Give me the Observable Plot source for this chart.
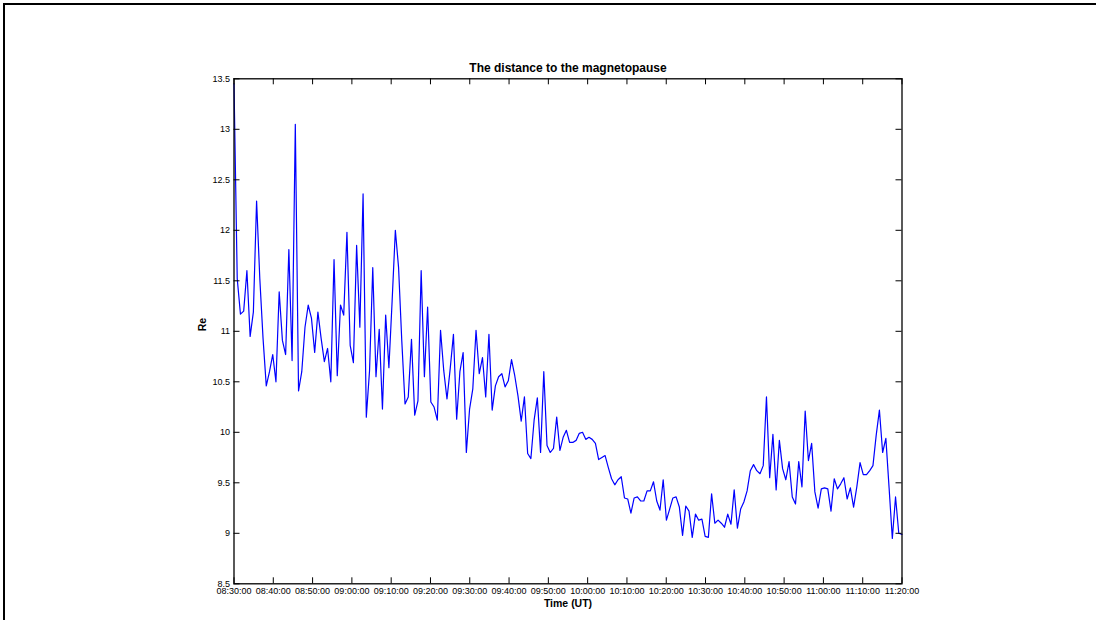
<!DOCTYPE html>
<html>
<head>
<meta charset="utf-8">
<script src="https://cdn.jsdelivr.net/npm/d3@7"></script>
<script src="https://cdn.jsdelivr.net/npm/@observablehq/plot@0.6"></script>
<style>
  html, body { margin: 0; padding: 0; background: #fff; }
  #wrap { position: relative; width: 1096px; height: 620px; overflow: hidden; }
  #border { position: absolute; left: 3px; top: 3px; width: 1200px; height: 800px;
            border-top: 2px solid #000; border-left: 2px solid #000; pointer-events: none; }
</style>
</head>
<body>
<div id="wrap"><div id="chart"></div><div id="border"></div></div>
<script>
// ---- data ----
const title = "The distance to the magnetopause";
const xLabel = "Time (UT)";
const yLabel = "Re";
const startTime = "08:30:00";
const endTime = "11:20:00";
const xTickLabels = ["08:30:00","08:40:00","08:50:00","09:00:00","09:10:00","09:20:00",
  "09:30:00","09:40:00","09:50:00","10:00:00","10:10:00","10:20:00","10:30:00","10:40:00",
  "10:50:00","11:00:00","11:10:00","11:20:00"];
const yTicks = [8.5, 9, 9.5, 10, 10.5, 11, 11.5, 12, 12.5, 13, 13.5];
// distance (Re), evenly sampled from startTime to endTime
const distance = [
  13.45, 11.52, 11.17, 11.2, 11.6, 10.95, 11.19, 12.29, 11.52, 10.93,
  10.46, 10.6, 10.77, 10.5, 11.39, 10.91, 10.77, 11.81, 10.71, 13.05,
  10.41, 10.6, 11.04, 11.26, 11.13, 10.79, 11.19, 10.93, 10.7, 10.83,
  10.5, 11.71, 10.56, 11.26, 11.16, 11.98,
  10.86, 10.69, 11.85, 11.04, 12.36, 10.15, 10.61, 11.63, 10.55, 11.02,
  10.23, 11.16, 10.64, 11.3, 12.0, 11.63, 10.9, 10.28, 10.35, 10.92,
  10.17, 10.31, 11.6, 10.55, 11.24, 10.3, 10.25, 10.12, 11.01, 10.61,
  10.33, 10.63, 10.97, 10.13,
  10.6, 10.79, 9.8, 10.23, 10.43, 11.01, 10.58, 10.74, 10.35, 10.97,
  10.22, 10.46, 10.55, 10.58, 10.45, 10.51, 10.72, 10.56, 10.36, 10.11,
  10.35, 9.79, 9.74, 10.12, 10.34, 9.8, 10.6, 9.87, 9.8, 9.84,
  10.15, 9.82, 9.95, 10.02, 9.9, 9.9,
  9.92, 9.99, 10.0, 9.93, 9.95, 9.93, 9.89, 9.73, 9.75, 9.77,
  9.65, 9.54, 9.48, 9.53, 9.56, 9.35, 9.34, 9.2, 9.35, 9.36,
  9.32, 9.32, 9.42, 9.42, 9.51, 9.32, 9.23, 9.53, 9.13, 9.24,
  9.35, 9.36, 9.26, 8.98, 9.27, 9.22,
  8.96, 9.19, 9.13, 9.14, 8.97, 8.96, 9.39, 9.1, 9.13, 9.1,
  9.06, 9.19, 9.09, 9.43, 9.05, 9.24, 9.31, 9.42, 9.62, 9.68,
  9.62, 9.59, 9.67, 10.35, 9.55, 9.98, 9.43, 9.92, 9.64, 9.53,
  9.71, 9.36, 9.29, 9.71, 9.46, 10.21,
  9.72, 9.89, 9.41, 9.25, 9.44, 9.45, 9.44, 9.22, 9.54, 9.44,
  9.49, 9.55, 9.34, 9.45, 9.26, 9.46, 9.7, 9.58, 9.58, 9.62,
  9.67, 9.97, 10.22, 9.8, 9.94, 9.45, 8.95, 9.36, 9.0, 8.99
];

// ---- build ----
const parseT = s => new Date(`2000-01-01T${s}Z`);
const t0 = parseT(startTime), t1 = parseT(endTime);
const stepMs = (t1 - t0) / (distance.length - 1);
const data = distance.map((v, i) => ({time: new Date(+t0 + i * stepMs), value: v}));
const xTicks = xTickLabels.map(parseT);

const W = 1096, H = 620;
const mL = 233.5, mR = 194.5, mT = 78.3, mB = 36.7;
const plotW = W - mL - mR, plotH = H - mT - mB;
const tickLen = 6;

const chart = Plot.plot({
  width: W, height: H,
  marginLeft: mL, marginRight: mR, marginTop: mT, marginBottom: mB,
  style: {fontFamily: "'Liberation Sans', Arial, Helvetica, sans-serif", fontSize: "9px", color: "#000", background: "#fff", overflow: "visible"},
  x: {type: "utc", domain: [t0, t1]},
  y: {domain: [8.5, 13.5]},
  marks: [
    Plot.line(data, {x: "time", y: "value", stroke: "#0000ff", strokeWidth: 1.2}),
    Plot.frame({stroke: "#000", strokeWidth: 1.3}),
    // inward ticks (bottom, top, left, right)
    Plot.tickX(xTicks, {x: d => d, stroke: "#000", strokeWidth: 1, insetTop: plotH - tickLen}),
    Plot.tickX(xTicks, {x: d => d, stroke: "#000", strokeWidth: 1, insetBottom: plotH - tickLen}),
    Plot.tickY(yTicks, {y: d => d, stroke: "#000", strokeWidth: 1, insetRight: plotW - tickLen}),
    Plot.tickY(yTicks, {y: d => d, stroke: "#000", strokeWidth: 1, insetLeft: plotW - tickLen}),
    Plot.axisX({ticks: xTicks, tickSize: 0, tickPadding: 3.5, tickFormat: d3.utcFormat("%H:%M:%S"), label: null, fontSize: 9}),
    Plot.axisY({ticks: yTicks, tickSize: 0, tickPadding: 4, tickFormat: d => String(d), label: null, fontSize: 9}),
    Plot.text([title], {frameAnchor: "top", lineAnchor: "middle", dy: -11, text: d => d, fontWeight: "bold", fontSize: 12}),
    Plot.text([xLabel], {frameAnchor: "bottom", lineAnchor: "middle", dy: 20, text: d => d, fontWeight: "bold", fontSize: 10.5}),
    Plot.text([yLabel], {frameAnchor: "left", lineAnchor: "middle", dx: -31, rotate: -90, text: d => d, fontWeight: "bold", fontSize: 10.5})
  ]
});
document.getElementById("chart").appendChild(chart);
</script>
</body>
</html>
